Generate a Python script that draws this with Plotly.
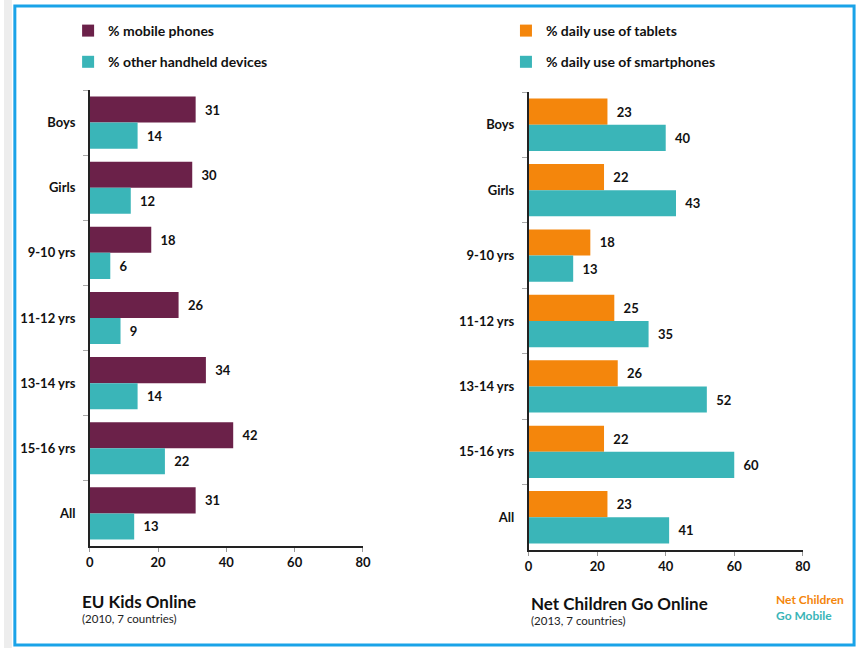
import plotly.graph_objects as go

categories = ["Boys", "Girls", "9-10 yrs", "11-12 yrs", "13-14 yrs", "15-16 yrs", "All"]
mobile_phones = [31, 30, 18, 26, 34, 42, 31]
other_handheld = [14, 12, 6, 9, 14, 22, 13]
tablets_daily = [23, 22, 18, 25, 26, 22, 23]
smartphones_daily = [40, 43, 13, 35, 52, 60, 41]
x_ticks = [0, 20, 40, 60, 80]

MAROON = "#6B2149"
TEAL = "#3AB5B8"
ORANGE = "#F4860C"
FONT = "Lato"
W, H = 867, 648

def px(x):
    return x / W

def py(y):
    return 1 - y / H

fig = go.Figure()

def bar(vals, name, color, xa, ya, legend, group):
    return go.Bar(
        x=vals, y=categories, orientation="h", name=name,
        marker=dict(color=color, line=dict(width=0)),
        text=vals, texttemplate="  %{x}", textposition="outside",
        textfont=dict(family=FONT, size=13, color="#111", weight="bold"),
        cliponaxis=False, xaxis=xa, yaxis=ya, legend=legend, legendgroup=group,
    )

fig.add_trace(bar(mobile_phones, "% mobile phones", MAROON, "x", "y", "legend", "a"))
fig.add_trace(bar(other_handheld, "% other handheld devices", TEAL, "x", "y", "legend", "b"))
fig.add_trace(bar(tablets_daily, "% daily use of tablets", ORANGE, "x2", "y2", "legend2", "c"))
fig.add_trace(bar(smartphones_daily, "% daily use of smartphones", TEAL, "x2", "y2", "legend2", "d"))

tickfont = dict(family=FONT, size=13, color="#111", weight="bold")
xcommon = dict(range=[0, 80], tickvals=x_ticks, showgrid=False, zeroline=False,
               showline=True, linecolor="#222", linewidth=1.5, ticks="outside",
               ticklen=4, tickcolor="#999", tickfont=tickfont, fixedrange=True)
ycommon = dict(autorange="reversed", showgrid=False, showline=True, linecolor="#222",
               linewidth=1.5, ticks="outside", ticklen=5, tickcolor="#aaa",
               tickson="boundaries", tickfont=tickfont, ticklabelstandoff=10,
               fixedrange=True)

legfont = dict(family=FONT, size=14, color="#111", weight="bold")
fig.update_layout(
    width=W, height=H,
    margin=dict(l=0, r=0, t=0, b=0),
    paper_bgcolor="white", plot_bgcolor="white",
    barmode="group", bargap=0.2, bargroupgap=0.0,
    xaxis=dict(domain=[px(87), px(364)], anchor="y", **xcommon),
    yaxis=dict(domain=[py(546), py(90)], anchor="x", **ycommon),
    xaxis2=dict(domain=[px(532), px(810)], anchor="y2", **xcommon),
    yaxis2=dict(domain=[py(550), py(92)], anchor="x2", **ycommon),
    legend=dict(x=px(65), y=py(15), xanchor="left", yanchor="top", font=legfont,
                tracegroupgap=10, bgcolor="rgba(0,0,0,0)", traceorder="grouped"),
    legend2=dict(x=px(509), y=py(15), xanchor="left", yanchor="top", font=legfont,
                 tracegroupgap=10, bgcolor="rgba(0,0,0,0)", traceorder="grouped"),
    showlegend=True,
)

# frame
fig.add_shape(type="rect", xref="paper", yref="paper", x0=0, x1=px(8), y0=0, y1=1,
              fillcolor="#EDEDED", line=dict(width=0), layer="below")
fig.add_shape(type="rect", xref="paper", yref="paper", x0=px(11), x1=px(862),
              y0=py(645), y1=py(6), line=dict(color="#1AA3E8", width=3))

# source captions
anns = [
    dict(text="<b>EU Kids Online</b>", x=px(77), y=py(601), size=17, color="#111"),
    dict(text="(2010, 7 countries)", x=px(77), y=py(618), size=11.5, color="#222"),
    dict(text="<b>Net Children Go Online</b>", x=px(532), y=py(603), size=17, color="#111"),
    dict(text="(2013, 7 countries)", x=px(532), y=py(620), size=11.5, color="#222"),
    dict(text=f"<b><span style='color:{ORANGE}'>Net Children</span><br>"
              f"<span style='color:{TEAL}'>Go Mobile</span></b>",
         x=px(781), y=py(607), size=12, color=ORANGE),
]
for a in anns:
    fig.add_annotation(text=a["text"], x=a["x"], y=a["y"], xref="paper", yref="paper",
                       xanchor="left", yanchor="middle", align="left", showarrow=False,
                       font=dict(family=FONT, size=a["size"], color=a["color"]))

fig.write_html("out.html", config={"displayModeBar": False},
               post_script="document.body.style.margin='0';document.body.style.overflow='hidden';")
